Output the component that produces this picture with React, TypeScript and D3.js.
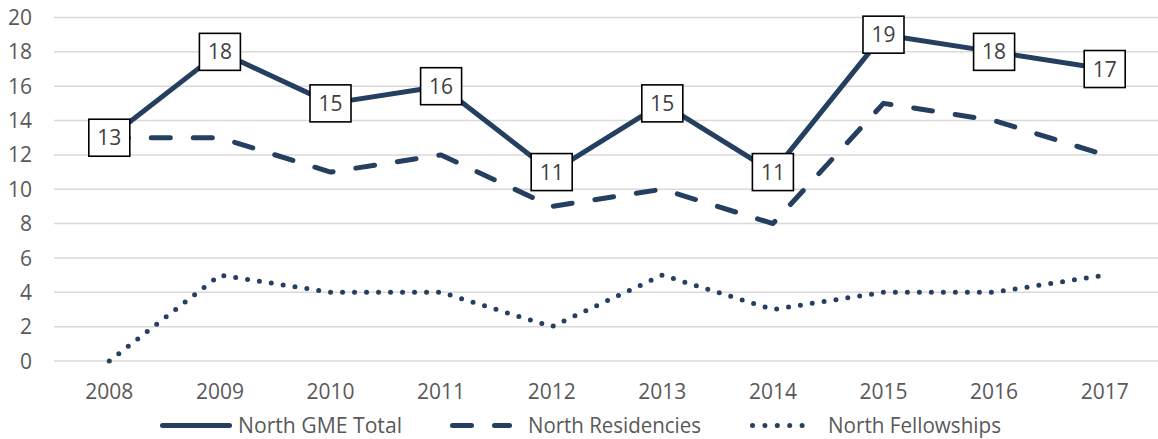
import * as d3 from "d3";

const years = ["2008", "2009", "2010", "2011", "2012", "2013", "2014", "2015", "2016", "2017"];
const gmeTotal = [13, 18, 15, 16, 11, 15, 11, 19, 18, 17];
const residencies = [13, 13, 11, 12, 9, 10, 8, 15, 14, 12];
const fellowships = [0, 5, 4, 4, 2, 5, 3, 4, 4, 5];
const yTicks = [0, 2, 4, 6, 8, 10, 12, 14, 16, 18, 20];

const legendItems = [
    { name: "North GME Total", dash: "none", lineX: 160, lineW: 72, textX: 238, textW: 164 },
    { name: "North Residencies", dash: "19 23", lineX: 450, lineW: 62, textX: 528, textW: 173 },
    { name: "North Fellowships", dash: "0 12.4", lineX: 750, lineW: 64, textX: 828, textW: 173 },
];

const WIDTH = 1158;
const HEIGHT = 439;
const LINE_COLOR = "#243F60";
const TEXT_COLOR = "#595959";
const FONT = "'Open Sans', 'Noto Sans', sans-serif";

const App = () => {
    const x = d3.scaleBand().domain(years).range([54, 1160]).padding(0);
    const y = d3.scaleLinear().domain([0, 20]).range([361, 17.5]);
    const cx = (i: number) => (x(years[i]) as number) + x.bandwidth() / 2;

    const line = d3
        .line<number>()
        .x((d, i) => cx(i))
        .y((d) => y(d));

    const series = [
        { data: gmeTotal, dash: "none" },
        { data: residencies, dash: "19 23" },
        { data: fellowships, dash: "0 12" },
    ];

    return (
        <svg
            width={WIDTH}
            height={HEIGHT}
            style={{ position: "absolute", left: 0, top: 0, background: "#fff" }}
            fontFamily={FONT}
        >
            {/* grid */}
            {yTicks.map((t) => (
                <line key={"g" + t} x1={54} x2={1158} y1={y(t)} y2={y(t)} stroke="#d9d9d9" strokeWidth={1.5} />
            ))}
            {/* y axis labels */}
            {yTicks.map((t) => (
                <text
                    key={"y" + t}
                    x={32}
                    y={y(t)}
                    dy="0.36em"
                    textAnchor="end"
                    fontSize={21}
                    fill={TEXT_COLOR}
                >
                    {t}
                </text>
            ))}
            {/* x axis labels */}
            {years.map((yr, i) => (
                <text key={yr} x={cx(i)} y={391} dy="0.36em" textAnchor="middle" fontSize={21} fill={TEXT_COLOR}>
                    {yr}
                </text>
            ))}
            {/* lines */}
            {series.map((s, k) => (
                <path
                    key={"s" + k}
                    d={line(s.data) || ""}
                    fill="none"
                    stroke={LINE_COLOR}
                    strokeWidth={5}
                    strokeDasharray={s.dash}
                    strokeLinecap={k === 0 ? "butt" : "round"}
                    strokeLinejoin="round"
                />
            ))}
            {/* data labels on total */}
            {gmeTotal.map((v, i) => {
                const px = cx(i);
                const py = y(v);
                return (
                    <g key={"l" + i}>
                        <rect x={px - 20.5} y={py - 18.5} width={41} height={37} fill="#fff" stroke="#000" strokeWidth={1.6} />
                        <text x={px} y={py} dy="0.36em" textAnchor="middle" fontSize={21} fill="#404040">
                            {v}
                        </text>
                    </g>
                );
            })}
            {/* legend */}
            {legendItems.map((it, k) => (
                <g key={"lg" + k}>
                    <line
                        x1={it.lineX + 2.5}
                        x2={it.lineX + it.lineW - 2.5}
                        y1={425.5}
                        y2={425.5}
                        stroke={LINE_COLOR}
                        strokeWidth={5}
                        strokeDasharray={it.dash}
                        strokeLinecap="round"
                    />
                    <text
                        x={it.textX}
                        y={425.5}
                        dy="0.36em"
                        fontSize={21}
                        fill={TEXT_COLOR}
                        textLength={it.textW}
                        lengthAdjust="spacingAndGlyphs"
                    >
                        {it.name}
                    </text>
                </g>
            ))}
        </svg>
    );
};

export default App;
